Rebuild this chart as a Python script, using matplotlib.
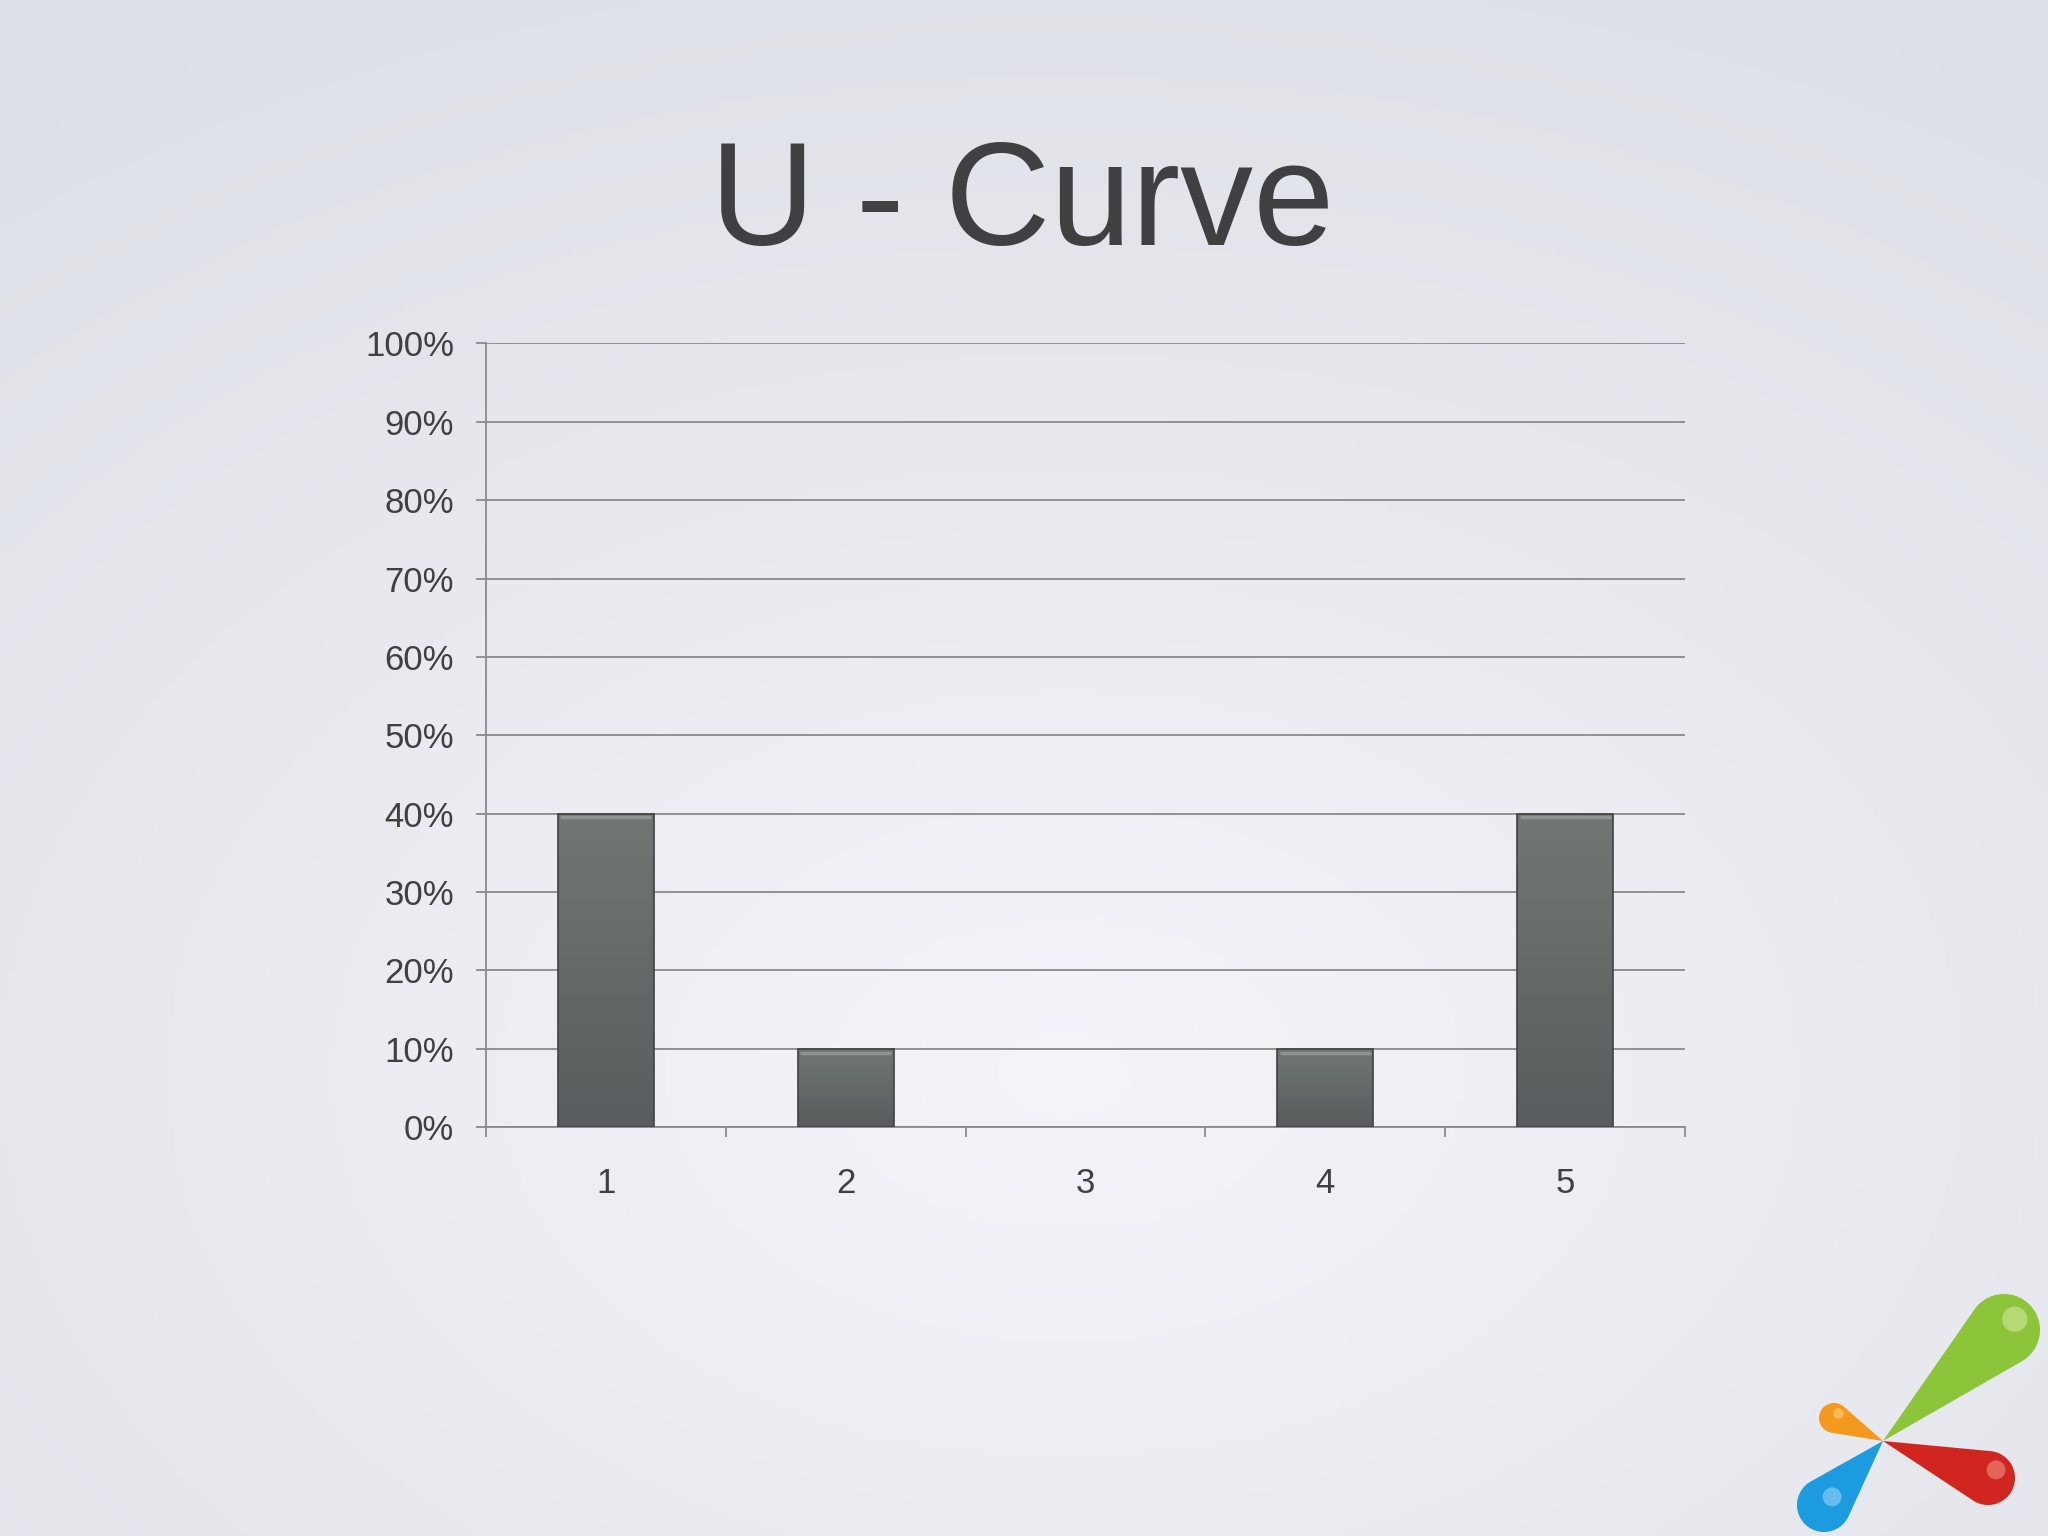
import numpy as np
import matplotlib
matplotlib.use("Agg")
import matplotlib.pyplot as plt
from matplotlib.patches import Polygon, Circle

plt.rcParams['font.family'] = ['Liberation Sans', 'DejaVu Sans']

# data
categories = ['1', '2', '3', '4', '5']
values = [40, 10, 0, 10, 40]
y_ticks = [0, 10, 20, 30, 40, 50, 60, 70, 80, 90, 100]
y_labels = [f'{v}%' for v in y_ticks]
title = 'U - Curve'

fig = plt.figure(figsize=(20.48, 15.36), dpi=100)

# slide background: soft radial gradient, brightest below the middle
bg = fig.add_axes([0, 0, 1, 1], zorder=-10)
yy, xx = np.mgrid[0:1:300j, 0:1:400j]
r = np.sqrt(((xx - 0.52) / 1.0) ** 2 + ((yy - 0.3) / 0.9) ** 2)
r = np.clip(r / 0.85, 0, 1)
c_in = np.array([0.955, 0.960, 0.976])
c_out = np.array([0.870, 0.878, 0.906])
img = c_in[None, None, :] * (1 - r[..., None]) + c_out[None, None, :] * r[..., None]
bg.imshow(img, extent=[0, 1, 0, 1], aspect='auto', origin='lower')
bg.axis('off')

fig.text(0.499, 0.865, title, ha='center', va='center', fontsize=105, color='#3f4042')

ax = fig.add_axes([0.2373, 0.2663, 0.5855, 0.5101])
ax.patch.set_alpha(0)
x = np.arange(len(categories))
bars = ax.bar(x, values, width=0.4, color='#646a69', linewidth=0, zorder=3)

# vertical shading inside each bar
grad = np.linspace(0, 1, 256)[:, None]
top_c = np.array([0.44, 0.47, 0.45])
bot_c = np.array([0.35, 0.36, 0.37])
shade = top_c[None, None, :] * (1 - grad[..., None]) + bot_c[None, None, :] * grad[..., None]
for b in bars:
    h = b.get_height()
    if h <= 0:
        continue
    x0 = b.get_x()
    w = b.get_width()
    im = ax.imshow(shade, extent=[x0, x0 + w, 0, h], aspect='auto', origin='upper', zorder=3.5)
    im.set_clip_path(b)
    ax.plot([x0 + 0.01, x0 + w - 0.01], [h - 0.5, h - 0.5], color='#8e9591', lw=2.5,
            solid_capstyle='butt', zorder=4)
    ax.add_patch(plt.Rectangle((x0, 0), w, h, fill=False, edgecolor='#3f4343', lw=1.2, zorder=4.5))

ax.set_xlim(-0.5, len(categories) - 0.5)
ax.set_ylim(0, 100)
ax.set_yticks(y_ticks)
ax.set_yticklabels(y_labels)
ax.set_xticks(x)
ax.set_xticklabels(categories)
ax.set_xticks(np.arange(-0.5, len(categories), 1), minor=True)
ax.yaxis.grid(True, color='#8a8a8a', lw=1.3, zorder=1)
ax.set_axisbelow(True)
for s in ['top', 'right']:
    ax.spines[s].set_visible(False)
for s in ['left', 'bottom']:
    ax.spines[s].set_color('#8a8a8a')
    ax.spines[s].set_linewidth(1.3)
ax.tick_params(axis='y', length=7, width=1.3, color='#8a8a8a', pad=16,
               labelsize=25, labelcolor='#404040')
ax.tick_params(axis='x', which='major', length=0, pad=29, labelsize=25, labelcolor='#404040')
ax.tick_params(axis='x', which='minor', length=7, width=1.3, color='#8a8a8a')

# logo in the bottom right corner
lg = fig.add_axes([0, 0, 1, 1], zorder=5)
lg.set_xlim(0, 2048)
lg.set_ylim(1536, 0)
lg.axis('off')


def drop(tip, center, rad, color, hi):
    tip = np.array(tip, float)
    center = np.array(center, float)
    d = np.linalg.norm(tip - center)
    phi = np.arctan2(tip[1] - center[1], tip[0] - center[0])
    a = np.arccos(min(rad / d, 0.99))
    th = np.linspace(phi + a, phi + 2 * np.pi - a, 80)
    pts = np.column_stack([center[0] + rad * np.cos(th), center[1] + rad * np.sin(th)])
    pts = np.vstack([tip, pts])
    lg.add_patch(Polygon(pts, closed=True, facecolor=color, edgecolor='none'))
    lg.add_patch(Circle(center + np.array([rad * 0.3, -rad * 0.3]), rad * 0.35,
                        facecolor=hi, alpha=0.45, edgecolor='none'))


tip = (1883, 1441)
drop(tip, (2004, 1330), 36, '#8cc43a', '#e6f5c0')
drop(tip, (1834, 1418), 15, '#f39a1e', '#ffe0a0')
drop(tip, (1988, 1478), 27, '#d0261f', '#ffb0a0')
drop(tip, (1824, 1505), 27, '#1d9be0', '#c0e8ff')

fig.savefig('out.png', dpi=100)
